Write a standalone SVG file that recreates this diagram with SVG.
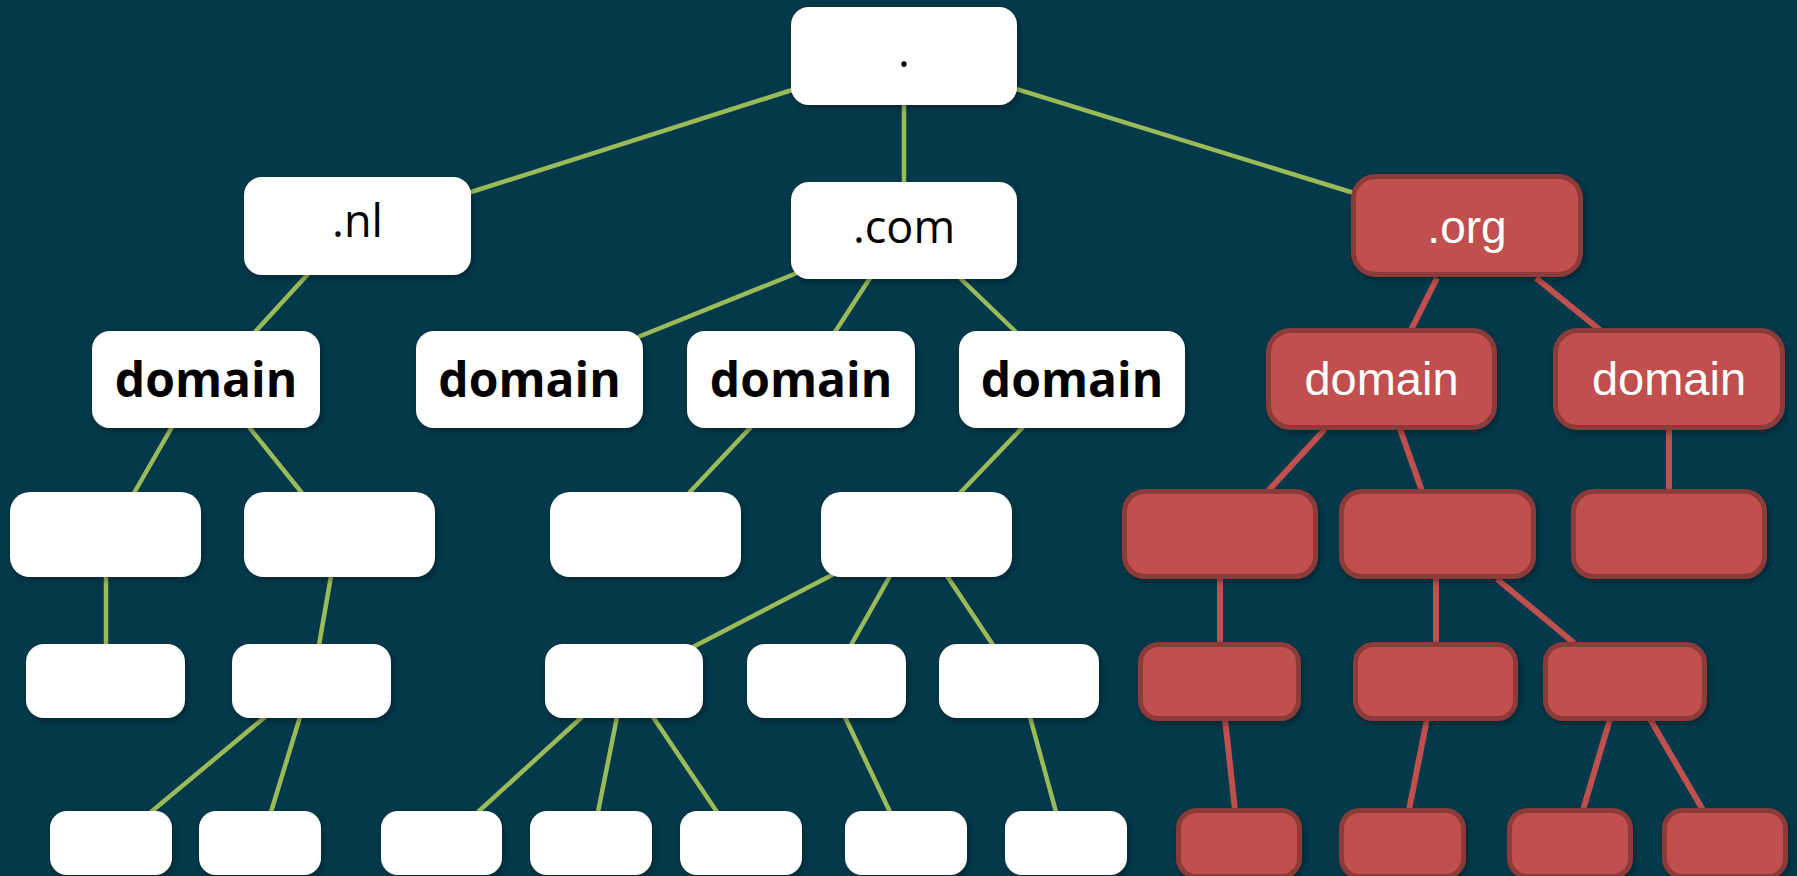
<svg xmlns="http://www.w3.org/2000/svg" width="1797" height="876" viewBox="0 0 1797 876">
<defs>
<filter id="sh" x="-20%" y="-20%" width="140%" height="150%">
<feDropShadow dx="2" dy="3" stdDeviation="3" flood-color="#000" flood-opacity="0.35"/>
</filter>
<style>
.w{fill:#ffffff;filter:url(#sh)}
.r{fill:#c0504d;stroke:#8c3a38;stroke-width:5;filter:url(#sh)}
.g{stroke:#9bbb59;stroke-width:4.5;fill:none}
.rl{stroke:#c0504d;stroke-width:6;fill:none}
.tb{font-family:"Open Sans","Noto Sans",sans-serif;font-size:48px;font-weight:bold;fill:#000;text-anchor:middle}
.tn{font-family:"Open Sans","Noto Sans",sans-serif;font-size:45px;fill:#000;text-anchor:middle}
.tw{font-family:"Liberation Sans",Arial,sans-serif;font-size:47px;fill:#fff;text-anchor:middle}
</style>
</defs>
<rect x="0" y="0" width="1797" height="876" fill="#03394a"/>
<g id="connectors">
<line class="g" x1="792" y1="90" x2="468" y2="193"/>
<line class="g" x1="904" y1="104" x2="904" y2="183"/>
<line class="g" x1="1016" y1="89" x2="1354" y2="193"/>
<line class="g" x1="308" y1="274" x2="255" y2="332"/>
<line class="g" x1="797" y1="273" x2="638" y2="337"/>
<line class="g" x1="870" y1="278" x2="835" y2="332"/>
<line class="g" x1="960" y1="278" x2="1016" y2="332"/>
<line class="g" x1="172" y1="427" x2="134" y2="493"/>
<line class="g" x1="249" y1="427" x2="302" y2="493"/>
<line class="g" x1="751" y1="427" x2="689" y2="493"/>
<line class="g" x1="1023" y1="427" x2="960" y2="493"/>
<line class="g" x1="106" y1="576" x2="106" y2="645"/>
<line class="g" x1="331" y1="576" x2="319" y2="645"/>
<line class="g" x1="834" y1="574" x2="693" y2="647"/>
<line class="g" x1="890" y1="576" x2="851" y2="645"/>
<line class="g" x1="947" y1="576" x2="993" y2="645"/>
<line class="g" x1="265" y1="717" x2="151" y2="812"/>
<line class="g" x1="300" y1="717" x2="271" y2="812"/>
<line class="g" x1="582" y1="717" x2="478" y2="812"/>
<line class="g" x1="617" y1="717" x2="598" y2="812"/>
<line class="g" x1="653" y1="717" x2="717" y2="812"/>
<line class="g" x1="845" y1="717" x2="890" y2="812"/>
<line class="g" x1="1030" y1="717" x2="1056" y2="812"/>
<line class="rl" x1="1437" y1="278" x2="1411" y2="330"/>
<line class="rl" x1="1536" y1="278" x2="1600" y2="330"/>
<line class="rl" x1="1325" y1="429" x2="1268" y2="491"/>
<line class="rl" x1="1400" y1="429" x2="1422" y2="491"/>
<line class="rl" x1="1669" y1="429" x2="1669" y2="491"/>
<line class="rl" x1="1220" y1="578" x2="1220" y2="643"/>
<line class="rl" x1="1436" y1="578" x2="1436" y2="643"/>
<line class="rl" x1="1497" y1="579" x2="1574" y2="643"/>
<line class="rl" x1="1225" y1="719" x2="1235" y2="810"/>
<line class="rl" x1="1427" y1="719" x2="1409" y2="810"/>
<line class="rl" x1="1610" y1="719" x2="1583" y2="810"/>
<line class="rl" x1="1650" y1="719" x2="1703" y2="810"/>
</g>
<g id="root"><rect class="w" x="791" y="7" width="226" height="98" rx="18"/><text class="tn" x="904" y="67">.</text></g>
<g id="nl"><rect class="w" x="244" y="177" width="227" height="98" rx="18"/><text class="tn" x="357.5" y="237">.nl</text></g>
<g id="com"><rect class="w" x="791" y="182" width="226" height="97" rx="18"/><text class="tn" x="904" y="243">.com</text></g>
<g id="org"><rect class="r" x="1353.5" y="176.5" width="227" height="98" rx="22"/><text class="tw" x="1467" y="243" style="font-size:46px">.org</text></g>
<g id="nl-domain"><rect class="w" x="92" y="331" width="228" height="97" rx="18"/><text class="tb" x="206" y="397">domain</text></g>
<g id="com-domain1"><rect class="w" x="416" y="331" width="227" height="97" rx="18"/><text class="tb" x="529.5" y="397">domain</text></g>
<g id="com-domain2"><rect class="w" x="687" y="331" width="228" height="97" rx="18"/><text class="tb" x="801" y="397">domain</text></g>
<g id="com-domain3"><rect class="w" x="959" y="331" width="226" height="97" rx="18"/><text class="tb" x="1072" y="397">domain</text></g>
<g id="org-domain1"><rect class="r" x="1268.5" y="330.5" width="226" height="97" rx="22"/><text class="tw" x="1381.5" y="395">domain</text></g>
<g id="org-domain2"><rect class="r" x="1555.5" y="330.5" width="227" height="97" rx="22"/><text class="tw" x="1669" y="395">domain</text></g>
<g id="n3a"><rect class="w" x="10" y="492" width="191" height="85" rx="20"/></g>
<g id="n3b"><rect class="w" x="244" y="492" width="191" height="85" rx="20"/></g>
<g id="n3c"><rect class="w" x="550" y="492" width="191" height="85" rx="20"/></g>
<g id="n3d"><rect class="w" x="821" y="492" width="191" height="85" rx="20"/></g>
<g id="n3e"><rect class="r" x="1124.5" y="491.5" width="191" height="85" rx="20"/></g>
<g id="n3f"><rect class="r" x="1341.5" y="491.5" width="192" height="85" rx="20"/></g>
<g id="n3g"><rect class="r" x="1573.5" y="491.5" width="191" height="85" rx="20"/></g>
<g id="n4a"><rect class="w" x="26" y="644" width="159" height="74" rx="18"/></g>
<g id="n4b"><rect class="w" x="232" y="644" width="159" height="74" rx="18"/></g>
<g id="n4c"><rect class="w" x="545" y="644" width="158" height="74" rx="18"/></g>
<g id="n4d"><rect class="w" x="747" y="644" width="159" height="74" rx="18"/></g>
<g id="n4e"><rect class="w" x="939" y="644" width="160" height="74" rx="18"/></g>
<g id="n4h"><rect class="r" x="1140.5" y="644.5" width="158" height="74" rx="18"/></g>
<g id="n4i"><rect class="r" x="1355.5" y="644.5" width="160" height="74" rx="18"/></g>
<g id="n4j"><rect class="r" x="1545.5" y="644.5" width="159" height="74" rx="18"/></g>
<g id="n5a"><rect class="w" x="50" y="811" width="122" height="64" rx="17"/></g>
<g id="n5b"><rect class="w" x="199" y="811" width="122" height="64" rx="17"/></g>
<g id="n5c"><rect class="w" x="381" y="811" width="121" height="64" rx="17"/></g>
<g id="n5d"><rect class="w" x="530" y="811" width="122" height="64" rx="17"/></g>
<g id="n5e"><rect class="w" x="680" y="811" width="122" height="64" rx="17"/></g>
<g id="n5f"><rect class="w" x="845" y="811" width="122" height="64" rx="17"/></g>
<g id="n5g"><rect class="w" x="1005" y="811" width="122" height="64" rx="17"/></g>
<g id="n5k"><rect class="r" x="1178.5" y="810.5" width="121" height="66" rx="18"/></g>
<g id="n5l"><rect class="r" x="1341.5" y="810.5" width="122" height="66" rx="18"/></g>
<g id="n5m"><rect class="r" x="1509.5" y="810.5" width="121" height="66" rx="18"/></g>
<g id="n5n"><rect class="r" x="1664.5" y="810.5" width="121" height="66" rx="18"/></g>
</svg>
